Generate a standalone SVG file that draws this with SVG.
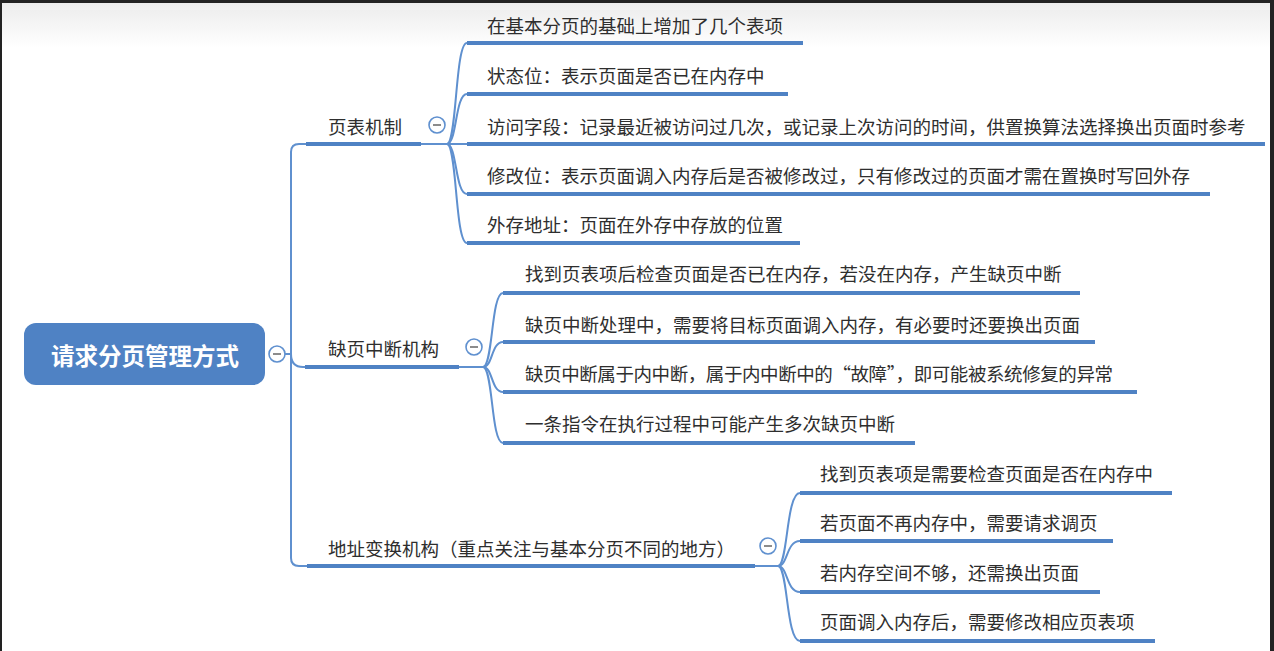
<svg xmlns="http://www.w3.org/2000/svg" width="1274" height="651" viewBox="0 0 1274 651">
<defs>
<linearGradient id="topg" x1="0" y1="0" x2="0" y2="1">
<stop offset="0" stop-color="#ececec"/>
<stop offset="1" stop-color="#ffffff"/>
</linearGradient>
</defs>
<style>
.t{font-family:"Noto Sans CJK SC","Noto Sans",sans-serif;font-size:18.5px;fill:#2e2e2e}
.ul{stroke:#4f82c4;stroke-width:4;fill:none}
.cn{stroke:#5f90cf;stroke-width:2;fill:none}
.cc{fill:#ffffff;stroke:#5f90cf;stroke-width:1.6}
.mn{stroke:#666666;stroke-width:1.5}
</style>
<rect x="0" y="0" width="1274" height="651" fill="#ffffff"/>
<rect x="0" y="3" width="1274" height="45" fill="url(#topg)"/>
<rect x="0" y="0" width="1274" height="3" fill="#222222"/>
<rect x="0" y="0" width="2" height="651" fill="#222222"/>
<rect x="1270" y="0" width="4" height="651" fill="#222222"/>

<g id="connectors">
<path class="cn" d="M285 354 H291 V152 Q291 144 299 144 H306"/>
<path class="cn" d="M291 354 Q291 367 303 367 H306"/>
<path class="cn" d="M291 354 V558 Q291 566 299 566 H307"/>
<path class="cn" d="M421 144 H447"/>
<path class="cn" d="M447 144 C457 144 455 43 467 43"/>
<path class="cn" d="M447 144 C457 144 455 94 467 94"/>
<path class="cn" d="M447 144 H467"/>
<path class="cn" d="M447 144 C457 144 455 194 467 194"/>
<path class="cn" d="M447 144 C457 144 455 243 467 243"/>
<path class="cn" d="M459 367 H483"/>
<path class="cn" d="M483 367 C493 367 491 293 503 293"/>
<path class="cn" d="M483 367 C493 367 491 342 503 342"/>
<path class="cn" d="M483 367 C493 367 491 392 503 392"/>
<path class="cn" d="M483 367 C493 367 491 443 503 443"/>
<path class="cn" d="M755 566 H778"/>
<path class="cn" d="M778 566 C788 566 786 493 800 493"/>
<path class="cn" d="M778 566 C788 566 786 541 800 541"/>
<path class="cn" d="M778 566 C788 566 786 592 800 592"/>
<path class="cn" d="M778 566 C788 566 786 641 800 641"/>
</g>

<g id="root">
<rect x="24" y="323" width="241" height="62" rx="12" fill="#4f82c4"/>
<text x="145" y="365" text-anchor="middle" style="font-family:'Noto Sans CJK SC',sans-serif;font-size:23.5px;font-weight:bold;fill:#ffffff">请求分页管理方式</text>
<circle class="cc" cx="277" cy="354" r="8"/>
<line class="mn" x1="273" y1="354" x2="281" y2="354"/>
</g>

<g id="b1">
<text class="t" x="328" y="134">页表机制</text>
<line class="ul" x1="306" y1="144" x2="421" y2="144"/>
<circle class="cc" cx="437" cy="125" r="8"/>
<line class="mn" x1="433" y1="125" x2="441" y2="125"/>
</g>
<g id="b1c1"><text class="t" x="487" y="33">在基本分页的基础上增加了几个表项</text><line class="ul" x1="467" y1="43" x2="803" y2="43"/></g>
<g id="b1c2"><text class="t" x="487" y="83">状态位：表示页面是否已在内存中</text><line class="ul" x1="467" y1="94" x2="788" y2="94"/></g>
<g id="b1c3"><text class="t" x="487" y="134">访问字段：记录最近被访问过几次，或记录上次访问的时间，供置换算法选择换出页面时参考</text><line class="ul" x1="467" y1="144" x2="1265" y2="144"/></g>
<g id="b1c4"><text class="t" x="487" y="183">修改位：表示页面调入内存后是否被修改过，只有修改过的页面才需在置换时写回外存</text><line class="ul" x1="467" y1="194" x2="1210" y2="194"/></g>
<g id="b1c5"><text class="t" x="487" y="232">外存地址：页面在外存中存放的位置</text><line class="ul" x1="467" y1="243" x2="800" y2="243"/></g>

<g id="b2">
<text class="t" x="328" y="356">缺页中断机构</text>
<line class="ul" x1="305" y1="367" x2="459" y2="367"/>
<circle class="cc" cx="474" cy="347" r="8"/>
<line class="mn" x1="470" y1="347" x2="478" y2="347"/>
</g>
<g id="b2c1"><text class="t" x="525" y="281">找到页表项后检查页面是否已在内存，若没在内存，产生缺页中断</text><line class="ul" x1="503" y1="293" x2="1080" y2="293"/></g>
<g id="b2c2"><text class="t" x="525" y="332">缺页中断处理中，需要将目标页面调入内存，有必要时还要换出页面</text><line class="ul" x1="503" y1="342" x2="1095" y2="342"/></g>
<g id="b2c3"><text class="t" x="525" y="381" textLength="588" lengthAdjust="spacing">缺页中断属于内中断，属于内中断中的“故障”，即可能被系统修复的异常</text><line class="ul" x1="503" y1="392" x2="1137" y2="392"/></g>
<g id="b2c4"><text class="t" x="525" y="431">一条指令在执行过程中可能产生多次缺页中断</text><line class="ul" x1="503" y1="443" x2="915" y2="443"/></g>

<g id="b3">
<text class="t" x="328" y="556">地址变换机构（重点关注与基本分页不同的地方）</text>
<line class="ul" x1="307" y1="566" x2="755" y2="566"/>
<circle class="cc" cx="768" cy="546" r="8"/>
<line class="mn" x1="764" y1="546" x2="772" y2="546"/>
</g>
<g id="b3c1"><text class="t" x="820" y="481">找到页表项是需要检查页面是否在内存中</text><line class="ul" x1="800" y1="493" x2="1172" y2="493"/></g>
<g id="b3c2"><text class="t" x="820" y="530">若页面不再内存中，需要请求调页</text><line class="ul" x1="800" y1="541" x2="1113" y2="541"/></g>
<g id="b3c3"><text class="t" x="820" y="580">若内存空间不够，还需换出页面</text><line class="ul" x1="800" y1="592" x2="1100" y2="592"/></g>
<g id="b3c4"><text class="t" x="820" y="629">页面调入内存后，需要修改相应页表项</text><line class="ul" x1="800" y1="641" x2="1155" y2="641"/></g>
</svg>
